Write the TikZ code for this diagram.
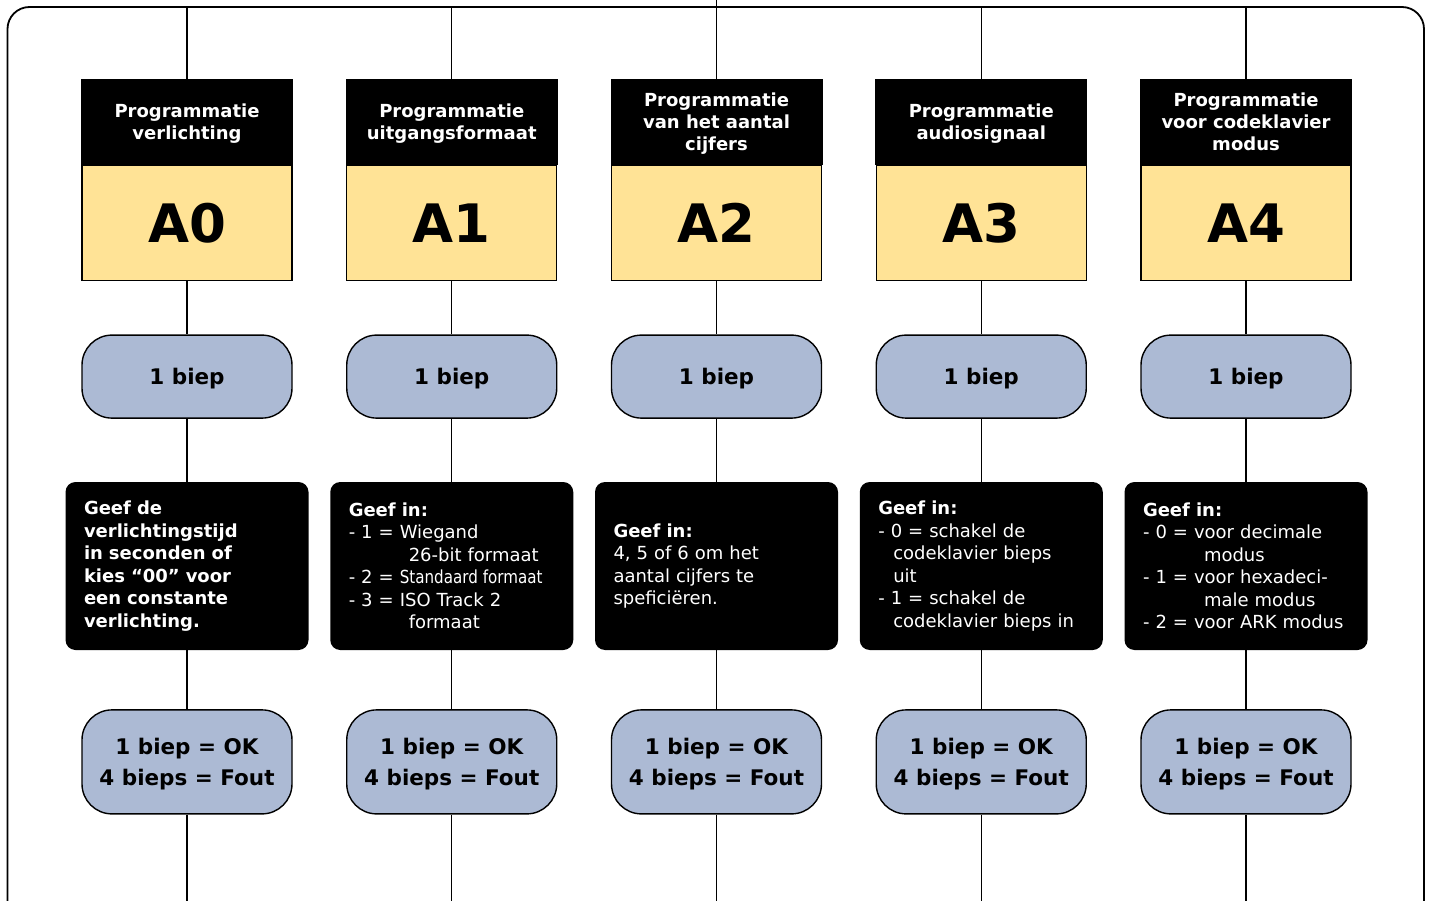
\documentclass[tikz,border=0pt]{standalone}
\usepackage{fontspec}
\setmainfont{DejaVu Sans}
\usetikzlibrary{positioning}

\definecolor{codegeel}{RGB}{255,227,150}
\definecolor{biepblauw}{RGB}{172,186,212}

\tikzset{
	kopbox/.style={fill=black, text=white, minimum width=212pt, minimum height=86pt,
		inner sep=0pt, align=center, text depth=0pt, font=\bfseries\fontsize{18}{22}\selectfont},
	codebox/.style={draw, line width=1.2pt, fill=codegeel, minimum width=210pt,
		minimum height=115pt, inner sep=0pt, font=\bfseries\fontsize{53}{60}\selectfont},
	biepbox/.style={draw, line width=1.4pt, fill=biepblauw, rounded corners=30pt,
		minimum width=210pt, inner sep=0pt, align=center, text depth=0pt,
		font=\bfseries\fontsize{21.5}{31}\selectfont},
	infobox/.style={fill=black, text=white, rounded corners=10pt, minimum width=243pt,
		minimum height=168pt, text width=206pt, inner sep=0pt, align=left,
		font=\fontsize{18}{22.5}\selectfont},
	lijn/.style={line width=1.4pt},
	rand/.style={line width=1.8pt, rounded corners=22pt},
}

\begin{document}
\begin{tikzpicture}[x=1pt, y=-1pt]
	\clip (0,0) rectangle (1430,901);
	\draw[rand] (7.5,950) -- (7.5,7) -- (1424,7) -- (1424,950);
	\foreach \i/\kop in {0/{Programmatie\\verlichting},
		1/{Programmatie\\uitgangsformaat},
		2/{Programmatie\\van het aantal\\cijfers},
		3/{Programmatie\\audiosignaal},
		4/{Programmatie\\voor codeklavier\\modus}}{
		\node[kopbox] (kop\i) at ({187+264.75*\i}, 122) {\kop};
		\node[codebox, below=0pt of kop\i] (code\i) {A\i};
		\node[biepbox, minimum height=83pt, below=53pt of code\i] (biep\i) {1 biep};
	}
	\node[infobox, font=\bfseries\fontsize{18}{22.5}\selectfont, below=63pt of biep0] (info0)
		{Geef de\\verlichtingstijd\\in seconden of\\kies “00” voor\\een constante\\verlichting.};
	\node[infobox, below=63pt of biep1] (info1)
		{\textbf{Geef in:}\\
		- 1 = Wiegand\\
		\hspace*{60pt}26-bit formaat\\
		- 2 = \scalebox{0.84}[1]{Standaard formaat}\\
		- 3 = ISO Track 2\\
		\hspace*{60pt}formaat};
	\node[infobox, below=63pt of biep2] (info2)
		{\textbf{Geef in:}\\4, 5 of 6 om het\\aantal cijfers te\\speficiëren.};
	\node[infobox, below=63pt of biep3] (info3)
		{\textbf{Geef in:}\\
		- 0 = schakel de\\
		\hspace*{15pt}codeklavier bieps\\
		\hspace*{15pt}uit\\
		- 1 = schakel de\\
		\hspace*{15pt}codeklavier bieps in};
	\node[infobox, below=63pt of biep4] (info4)
		{\textbf{Geef in:}\\
		- 0 = voor decimale\\
		\hspace*{61pt}modus\\
		- 1 = voor hexadeci-\\
		\hspace*{61pt}male modus\\
		- 2 = voor ARK modus};
	\foreach \i/\top in {0/7,1/7,2/0,3/7,4/7}{
		\node[biepbox, minimum height=104pt, below=59pt of info\i] (uitslag\i)
			{1 biep = OK\\4 bieps = Fout};
		\coordinate (boven\i) at ({187+264.75*\i}, \top);
		\coordinate (onder\i) at ({187+264.75*\i}, 901);
		\draw[lijn] (boven\i) -- (kop\i.north);
		\draw[lijn] (code\i) -- (biep\i);
		\draw[lijn] (biep\i) -- (info\i);
		\draw[lijn] (info\i) -- (uitslag\i);
		\draw[lijn] (uitslag\i) -- (onder\i);
	}
\end{tikzpicture}
\end{document}
